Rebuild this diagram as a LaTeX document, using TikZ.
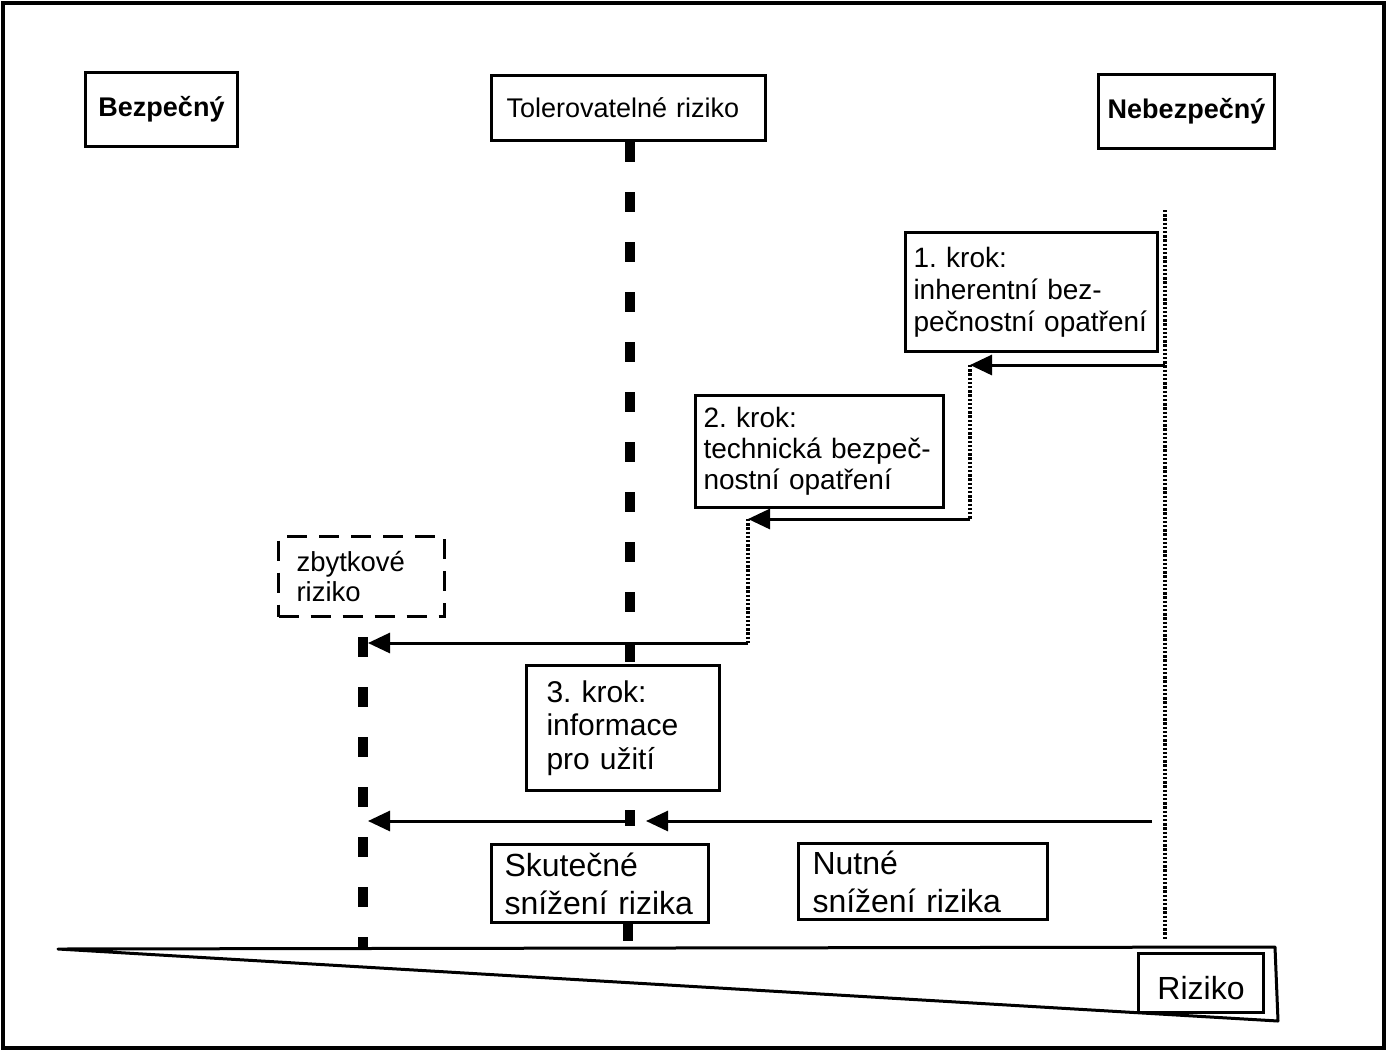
\documentclass[tikz,border=0pt]{standalone}
\usepackage{fontspec}
\setmainfont{Liberation Sans}
\usetikzlibrary{arrows.meta,positioning}
\frenchspacing

\begin{document}
\begin{tikzpicture}[
  x=0.5pt,y=-0.5pt,
  riskbox/.style={
    draw,
    line width=1.5pt,
    fill=white,
    anchor=north west,
    inner ysep=0pt
  },
  titlebox/.style={riskbox,align=center,font=\bfseries\fontsize{13.5}{16}\selectfont},
  stepbox/.style={riskbox,align=left,font=\fontsize{14}{16}\selectfont},
  arrow/.style={-{Triangle[length=11pt,width=10pt]},line width=1.5pt},
  limit/.style={line width=5pt,dash pattern=on 10pt off 15pt},
  trail/.style={line width=1.6pt,dash pattern=on 1.2pt off 0.9pt}
]
  \useasboundingbox (0,0) rectangle (1386,1050);
  \draw[line width=2pt] (2.5,2.5) rectangle (1383.5,1047.5);
  % risk axis
  \draw[line width=1.5pt,line join=round] (58,949) -- (1275,947) -- (1278,1021) -- cycle;

  \node[titlebox,minimum width=76pt,minimum height=37pt] (safe) at (84,71) {Bezpečný};
  \node[stepbox,font=\fontsize{13.5}{16}\selectfont,inner xsep=7.5pt,text width=122pt,minimum height=32.5pt] (tol) at (490,74) {Tolerovatelné riziko};
  \node[titlebox,minimum width=88pt,minimum height=37pt] (danger) at (1097,73) {Nebezpečný};

  \node[stepbox,inner xsep=4pt,text width=118pt,minimum height=59.5pt] (krok1) at (904,231) {1. krok:\\inherentní bez-\\pečnostní opatření};
  \node[stepbox,font=\fontsize{14}{15.5}\selectfont,inner xsep=4pt,text width=116pt,minimum height=56pt] (krok2) at (694,394) {2. krok:\\technická bezpeč-\\nostní opatření};
  \node[stepbox,dash pattern=on 10pt off 6pt,font=\fontsize{13.75}{15.5}\selectfont,inner xsep=9pt,text width=65pt,minimum height=40pt] (rest) at (277,535) {zbytkové\\riziko};
  \node[stepbox,font=\fontsize{15}{16.75}\selectfont,inner xsep=10pt,text width=76.5pt,minimum height=62.5pt] (krok3) at (525,664) {3. krok:\\informace\\pro užití};
  \node[stepbox,font=\fontsize{16}{19}\selectfont,inner xsep=6.5pt,text width=95.5pt,minimum height=39pt] (actual) at (490,843) {Skutečné\\snížení rizika};
  \node[stepbox,font=\fontsize{16}{19}\selectfont,inner xsep=7pt,text width=110.5pt,minimum height=38pt] (need) at (797,842) {Nutné\\snížení rizika};
  \node[riskbox,align=center,font=\fontsize{16}{19}\selectfont,minimum width=62.5pt,minimum height=29.5pt] (risk) at (1137,952) {\raisebox{-2.5pt}[\height][0pt]{Riziko}};

  % limits
  \coordinate (mid) at (630,0);
  \draw[limit] (mid |- tol.south) -- (mid |- krok3.north);
  \draw[line width=5pt,shorten <=9pt,shorten >=8.5pt] (mid |- krok3.south) -- (mid |- actual.north);
  \draw[line width=5pt] ([xshift=-1pt]mid |- actual.south) -- ++(0,17);
  \coordinate (resttop) at (363,637);
  \coordinate (restbot) at (363,948);
  \draw[limit] (resttop) -- (restbot);
  \coordinate (dtop) at (1165,210);
  \coordinate (dbot) at (1165,940);
  \draw[trail] (dtop) -- (dbot);

  % reduction steps
  \coordinate (s1) at (1165,365);
  \coordinate (s2) at (970,365);
  \coordinate (s3) at (970,519);
  \coordinate (s4) at (748,519);
  \coordinate (s5) at (748,643);
  \coordinate (s6) at (368,643);
  \draw[arrow] (s1) -- (s2);
  \draw[trail] (s2) -- (s3);
  \draw[arrow] (s3) -- (s4);
  \draw[trail] (s4) -- (s5);
  \draw[arrow] (s5) -- (s6);

  \coordinate (n1) at (1152,821);
  \coordinate (n2) at (646,821);
  \coordinate (a1) at (630,821);
  \coordinate (a2) at (368,821);
  \draw[arrow] (n1) -- (n2);
  \draw[arrow] (a1) -- (a2);
\end{tikzpicture}
\end{document}
